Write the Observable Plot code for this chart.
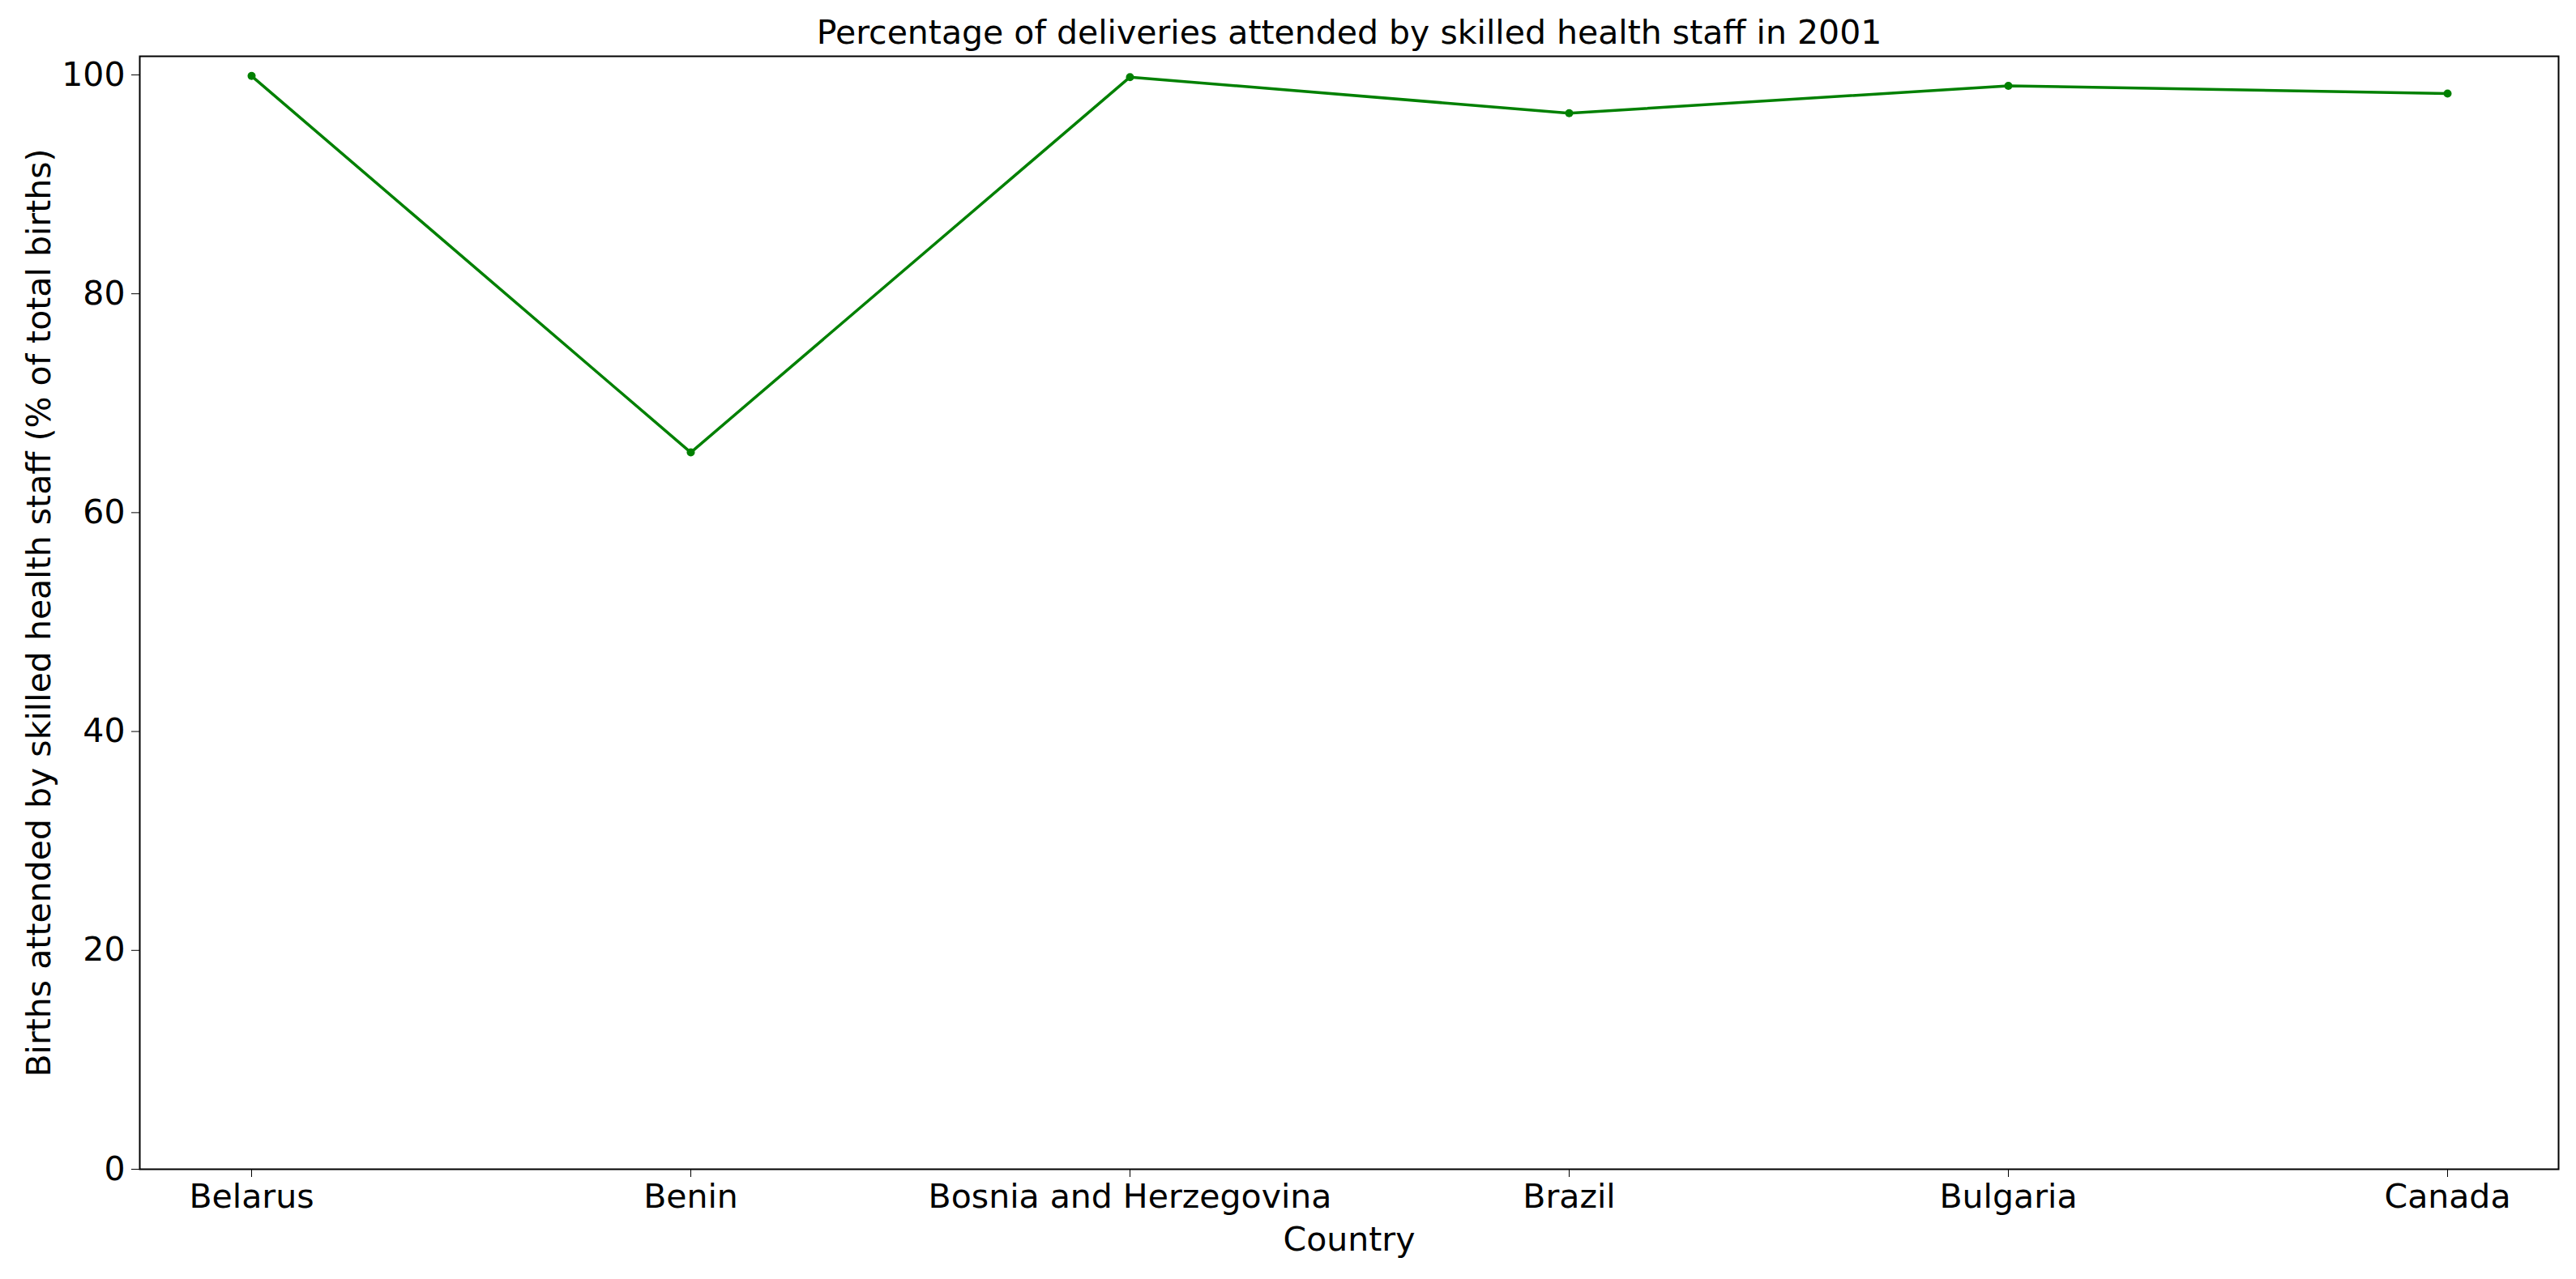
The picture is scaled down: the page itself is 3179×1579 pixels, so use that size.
<!DOCTYPE html>
<html>
<head>
<meta charset="utf-8">
<script src="https://cdn.jsdelivr.net/npm/d3@7"></script>
<script src="https://cdn.jsdelivr.net/npm/@observablehq/plot@0.6"></script>
<style>
  body { margin: 0; background: white; }
</style>
</head>
<body>
<div id="chart"></div>
<script>
const countries = ["Belarus", "Benin", "Bosnia and Herzegovina", "Brazil", "Bulgaria", "Canada"];
const births = [99.9, 65.5, 99.8, 96.5, 99.0, 98.3];
const yTicks = [0, 20, 40, 60, 80, 100];
const title = "Percentage of deliveries attended by skilled health staff in 2001";

const data = countries.map((c, i) => ({ country: c, value: births[i] }));

const chart = Plot.plot({
    width: 3179,
    height: 1579,
    marginLeft: 172,
    marginRight: 22,
    marginTop: 69,
    marginBottom: 136,
    style: { fontFamily: "DejaVu Sans", fontSize: "41px", color: "black", background: "white" },
    x: {
        type: "point",
        domain: countries,
        padding: 0.25,
        label: "Country",
        labelAnchor: "center",
        labelArrow: "none",
        labelOffset: 100,
        tickSize: 10,
        tickPadding: 8,
    },
    y: {
        domain: [0, 101.7],
        ticks: yTicks,
        label: "Births attended by skilled health staff (% of total births)",
        labelAnchor: "center",
        labelArrow: "none",
        labelOffset: 140,
        tickSize: 10,
        tickPadding: 8,
    },
    marks: [
        Plot.frame({ stroke: "black", strokeWidth: 2 }),
        Plot.line(data, { x: "country", y: "value", stroke: "green", strokeWidth: 3.5 }),
        Plot.dot(data, { x: "country", y: "value", fill: "green", r: 5 }),
        Plot.text([title], { frameAnchor: "top", dy: -29, fontSize: 41, lineAnchor: "middle", fill: "black" }),
    ],
});
document.getElementById("chart").append(chart);
</script>
</body>
</html>
